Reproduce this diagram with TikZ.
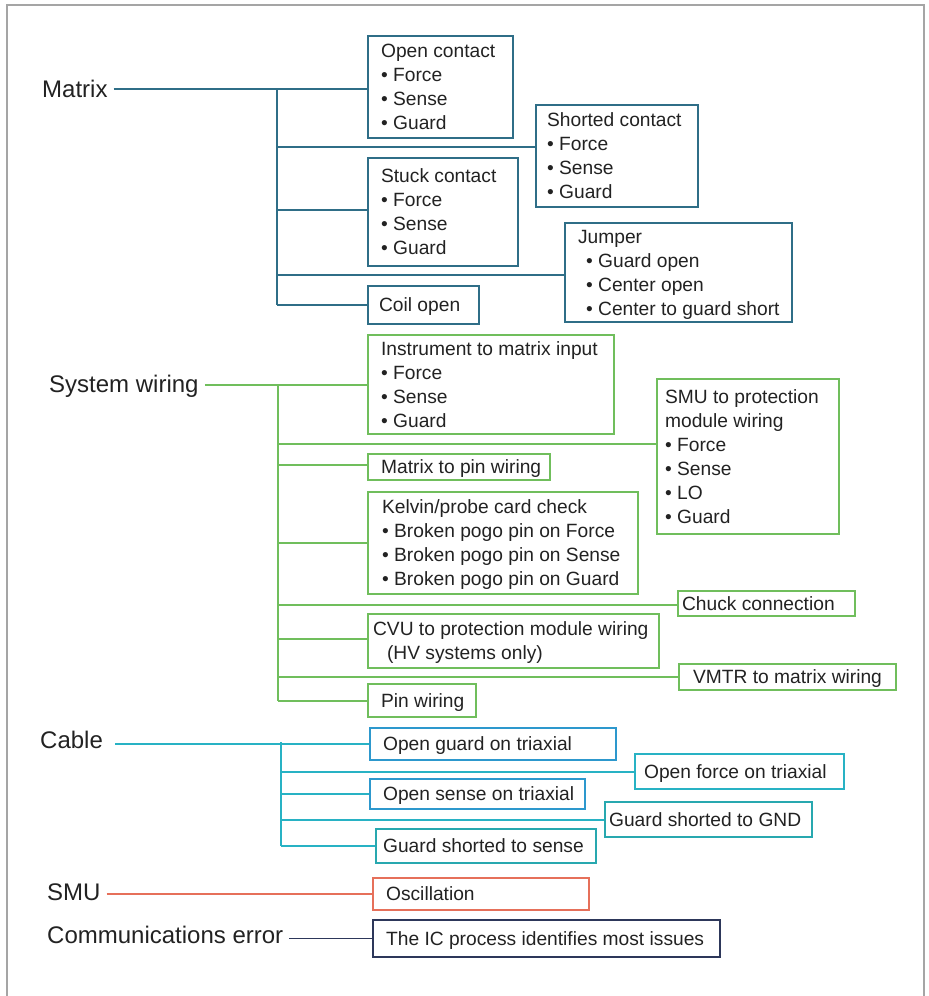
\documentclass[tikz,border=0pt]{standalone}
\usepackage{fontspec}
\setmainfont{Liberation Sans}
\newcommand\bt[3]{\makebox[#1pt][l]{\hspace*{#2pt}\raisebox{-2pt}[\height][\depth]{\begin{tabular}{@{}l@{}}#3\end{tabular}}}}
\definecolor{mcol}{RGB}{47,110,135}
\definecolor{gcol}{RGB}{112,190,92}
\definecolor{ccol}{RGB}{40,178,196}
\definecolor{cblue}{RGB}{45,152,205}
\definecolor{cteal}{RGB}{40,168,175}
\definecolor{scol}{RGB}{230,112,90}
\definecolor{kcol}{RGB}{45,55,90}
\definecolor{fcol}{RGB}{165,165,165}
\definecolor{txt}{RGB}{34,34,34}
\begin{document}
\begin{tikzpicture}[x=1pt,y=-1pt,
 lbl/.style={anchor=west, inner xsep=6pt, inner ysep=0pt, text height=17.2pt, text depth=0pt, font=\fontsize{24}{28}\selectfont, text=txt},
 bx/.style={draw=#1, line width=2.2pt, anchor=north west, inner sep=0pt, font=\fontsize{19.2}{24}\selectfont, text=txt},
 ln/.style={draw=#1, line width=2pt},
 frame/.style={draw=fcol, line width=1.5pt}]
\useasboundingbox (0,0) rectangle (929,996);
\draw[frame] (7,996) -- (7,5) -- (924,5) -- (924,996);

% ---------------- Matrix
\node[lbl] (matrix) at (36,89) {Matrix};
\node[bx=mcol, minimum height=102pt] (oc) at (367,35) {\bt{145}{13}{Open contact\\• Force\\• Sense\\• Guard}};
\node[bx=mcol, minimum height=102pt] (sc) at (535,104) {\bt{162}{11}{Shorted contact\\• Force\\• Sense\\• Guard}};
\node[bx=mcol, minimum height=108pt] (st) at (367,157) {\bt{150}{13}{Stuck contact\\• Force\\• Sense\\• Guard}};
\node[bx=mcol, minimum height=99pt] (jp) at (564,222) {\bt{227}{13}{Jumper\\\hspace*{8pt}• Guard open\\\hspace*{8pt}• Center open\\\hspace*{8pt}• Center to guard short}};
\node[bx=mcol, minimum height=38pt] (co) at (367,285) {\bt{111}{11}{Coil open}};
\coordinate (mt) at (277,89);
\draw[ln=mcol] (matrix.east) -- (matrix.east -| oc.west);
\draw[ln=mcol] (mt) -- (mt |- co.west);
\draw[ln=mcol] ([yshift=9pt]sc.west) -- ([yshift=9pt]sc.west -| mt);
\draw[ln=mcol] ([yshift=2pt]st.west) -- ([yshift=2pt]st.west -| mt);
\draw[ln=mcol] ([yshift=-2.5pt]jp.west) -- ([yshift=-2.5pt]jp.west -| mt);
\draw[ln=mcol] (co.west) -- (co.west -| mt);

% ---------------- System wiring
\node[lbl] (sw) at (43,384) {System wiring};
\node[bx=gcol, minimum height=99pt] (im) at (367,334) {\bt{246}{13}{Instrument to matrix input\\• Force\\• Sense\\• Guard}};
\node[bx=gcol, minimum height=155pt] (sp) at (656,378) {\bt{182}{8}{SMU to protection\\module wiring\\• Force\\• Sense\\• LO\\• Guard}};
\node[bx=gcol, minimum height=26pt] (mp) at (367,453) {\bt{182}{13}{Matrix to pin wiring}};
\node[bx=gcol, minimum height=102pt] (kv) at (367,491) {\bt{270}{14}{Kelvin/probe card check\\• Broken pogo pin on Force\\• Broken pogo pin on Sense\\• Broken pogo pin on Guard}};
\node[bx=gcol, minimum height=25pt] (ch) at (677,590) {\bt{177}{4}{Chuck connection}};
\node[bx=gcol, minimum height=54pt] (cv) at (367,613) {\bt{291}{5}{CVU to protection module wiring\\\hspace*{14pt}(HV systems only)}};
\node[bx=gcol, minimum height=26pt] (vm) at (678,663) {\bt{217}{14}{VMTR to matrix wiring}};
\node[bx=gcol, minimum height=33pt] (pw) at (367,683) {\bt{108}{13}{Pin wiring}};
\coordinate (gt) at (278,384);
\draw[ln=gcol] (sw.east |- im.west) -- (im.west);
\draw[ln=gcol] (gt) -- (gt |- pw.west);
\draw[ln=gcol] ([yshift=12.5pt]sp.west) -- ([yshift=12.5pt]sp.west -| gt);
\draw[ln=gcol] ([yshift=2pt]mp.west) -- ([yshift=2pt]mp.west -| gt);
\draw[ln=gcol] (kv.west) -- (kv.west -| gt);
\draw[ln=gcol] ([yshift=-1.5pt]ch.west) -- ([yshift=-1.5pt]ch.west -| gt);
\draw[ln=gcol] ([yshift=2pt]cv.west) -- ([yshift=2pt]cv.west -| gt);
\draw[ln=gcol] (vm.west) -- (vm.west -| gt);
\draw[ln=gcol] (pw.west) -- (pw.west -| gt);

% ---------------- Cable
\node[lbl] (cb) at (34,740) {Cable};
\node[bx=cblue, minimum height=32pt] (og) at (369,727) {\bt{246}{13}{Open guard on triaxial}};
\node[bx=ccol, minimum height=35pt] (of) at (634,753) {\bt{209}{9}{Open force on triaxial}};
\node[bx=cblue, minimum height=30pt] (os) at (369,778) {\bt{215}{13}{Open sense on triaxial}};
\node[bx=cteal, minimum height=35pt] (gg) at (604,801) {\bt{207}{4}{Guard shorted to GND}};
\node[bx=cteal, minimum height=34pt] (gs) at (375,828) {\bt{220}{7}{Guard shorted to sense}};
\coordinate (ct) at (281,742);
\draw[ln=ccol] ([xshift=6pt]cb.east |- og.west) -- (og.west);
\draw[ln=ccol] (ct) -- (ct |- gs.west);
\draw[ln=ccol] (of.west) -- (of.west -| ct);
\draw[ln=ccol] (os.west) -- (os.west -| ct);
\draw[ln=ccol] (gg.west) -- (gg.west -| ct);
\draw[ln=ccol] (gs.west) -- (gs.west -| ct);

% ---------------- SMU
\node[lbl] (smu) at (41,892) {SMU};
\node[bx=scol, minimum height=32pt] (osc) at (372,877) {\bt{216}{13}{Oscillation}};
\draw[ln=scol] (smu.east |- osc.west) -- (osc.west);

% ---------------- Communications error
\node[lbl] (ce) at (41,935) {Communications error};
\node[bx=kcol, minimum height=37pt] (ic) at (372,919) {\bt{347}{13}{The IC process identifies most issues}};
\draw[ln=kcol, line width=1.6pt] (ce.east |- ic.west) -- (ic.west);
\end{tikzpicture}
\end{document}
